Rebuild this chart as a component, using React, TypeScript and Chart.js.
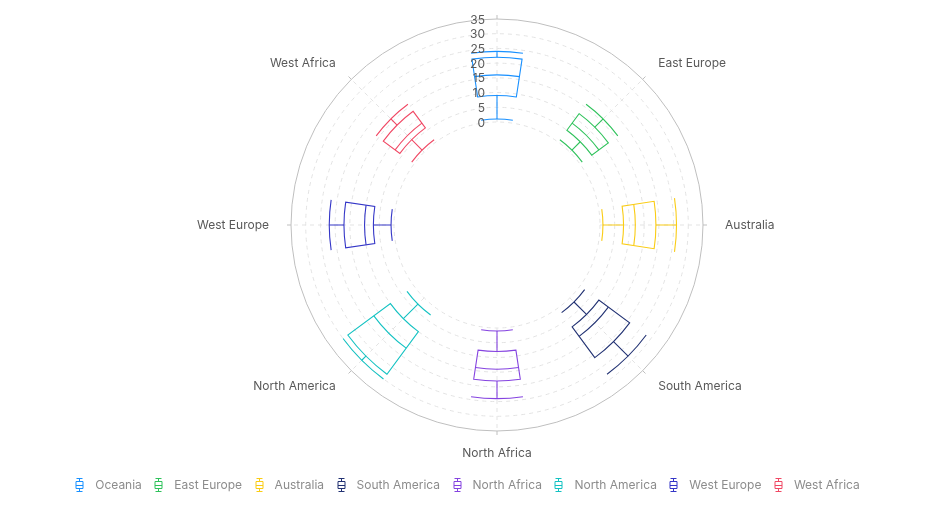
import React, { useEffect, useRef } from 'react';
import { Chart, registerables } from 'chart.js';

Chart.register(...registerables);

const categories = ['Oceania', 'East Europe', 'Australia', 'South America', 'North Africa', 'North America', 'West Europe', 'West Africa'];
const lows = [1, 1, 1, 2, 1, 3, 1, 1];
const q1s = [9, 5, 8, 8, 8, 10, 7, 6];
const medians = [16, 8, 12, 12, 14, 17, 10, 8];
const q3s = [22, 12, 19, 21, 18, 28, 17, 13];
const highs = [24, 16, 26, 28, 24, 30, 22, 16];
const colors = ['#1890FF', '#2FC25B', '#FACC14', '#223273', '#8543E0', '#13C2C2', '#3436C7', '#F04864'];
const radialTicks = [0, 5, 10, 15, 20, 25, 30, 35];
const axisLabels = ['', 'East Europe', 'Australia', 'South America', 'North Africa', 'North America', 'West Europe', 'West Africa'];

const FONT = 'Inter, "Liberation Sans", sans-serif';
const HALF_W = 0.15;

const polarBoxPlugin = {
  id: 'polarBox',
  beforeDatasetsDraw(chart: any) {
    const s = chart.scales.r;
    const ctx = chart.ctx;
    const r0 = s.getDistanceFromCenterForValue(0);
    const rMax = s.getDistanceFromCenterForValue(35);
    ctx.save();
    ctx.lineWidth = 1;
    radialTicks.forEach((v) => {
      const r = s.getDistanceFromCenterForValue(v);
      ctx.beginPath();
      if (v === 35) {
        ctx.setLineDash([]);
        ctx.strokeStyle = '#BFBFBF';
      } else {
        ctx.setLineDash([4, 4]);
        ctx.strokeStyle = '#E3E3E3';
      }
      ctx.arc(s.xCenter, s.yCenter, r, 0, Math.PI * 2);
      ctx.stroke();
    });
    ctx.setLineDash([4, 4]);
    ctx.strokeStyle = '#E3E3E3';
    categories.forEach((_, i) => {
      const a = s.getPointPosition(i, r0);
      const b = s.getPointPosition(i, rMax);
      ctx.beginPath();
      ctx.moveTo(a.x, a.y);
      ctx.lineTo(b.x, b.y);
      ctx.stroke();
    });
    ctx.setLineDash([]);
    ctx.strokeStyle = '#BFBFBF';
    categories.forEach((_, i) => {
      const a = s.getPointPosition(i, rMax);
      const b = s.getPointPosition(i, rMax + 4);
      ctx.beginPath();
      ctx.moveTo(a.x, a.y);
      ctx.lineTo(b.x, b.y);
      ctx.stroke();
    });
    ctx.restore();
  },
  afterDatasetsDraw(chart: any) {
    const s = chart.scales.r;
    const ctx = chart.ctx;
    const cx = s.xCenter;
    const cy = s.yCenter;
    ctx.save();
    ctx.lineWidth = 1.1;
    ctx.setLineDash([]);
    categories.forEach((_, i) => {
      const ang = s.getIndexAngle(i) - Math.PI / 2;
      const rl = s.getDistanceFromCenterForValue(lows[i]);
      const r1 = s.getDistanceFromCenterForValue(q1s[i]);
      const rm = s.getDistanceFromCenterForValue(medians[i]);
      const r3 = s.getDistanceFromCenterForValue(q3s[i]);
      const rh = s.getDistanceFromCenterForValue(highs[i]);
      ctx.strokeStyle = colors[i];
      const p = (r: number, a: number) => ({ x: cx + Math.cos(a) * r, y: cy + Math.sin(a) * r });
      [rl, rh].forEach((r) => {
        ctx.beginPath();
        ctx.arc(cx, cy, r, ang - HALF_W, ang + HALF_W);
        ctx.stroke();
      });
      ctx.beginPath();
      let a = p(rl, ang), b = p(r1, ang);
      ctx.moveTo(a.x, a.y); ctx.lineTo(b.x, b.y);
      a = p(r3, ang); b = p(rh, ang);
      ctx.moveTo(a.x, a.y); ctx.lineTo(b.x, b.y);
      ctx.stroke();
      ctx.beginPath();
      ctx.arc(cx, cy, r1, ang - HALF_W, ang + HALF_W);
      const c = p(r3, ang + HALF_W);
      ctx.lineTo(c.x, c.y);
      ctx.arc(cx, cy, r3, ang + HALF_W, ang - HALF_W, true);
      ctx.closePath();
      ctx.stroke();
      ctx.beginPath();
      ctx.arc(cx, cy, rm, ang - HALF_W, ang + HALF_W);
      ctx.stroke();
    });
    ctx.restore();
  },
  afterDraw(chart: any) {
    const s = chart.scales.r;
    const ctx = chart.ctx;
    ctx.save();
    ctx.font = `12px ${FONT}`;
    ctx.fillStyle = '#595959';
    ctx.textAlign = 'right';
    ctx.textBaseline = 'middle';
    radialTicks.forEach((v) => {
      const r = s.getDistanceFromCenterForValue(v);
      ctx.fillText(String(v), s.xCenter - 12, s.yCenter - r + 1);
    });
    const rl = s.getDistanceFromCenterForValue(35) + 22;
    axisLabels.forEach((t, i) => {
      if (!t) return;
      const pos = s.getPointPosition(i, rl);
      const dx = pos.x - s.xCenter;
      ctx.textAlign = Math.abs(dx) < 1 ? 'center' : dx > 0 ? 'left' : 'right';
      ctx.textBaseline = 'middle';
      ctx.fillText(t, pos.x, pos.y);
    });
    const ly = 485;
    const iconGap = 16;
    const itemGap = 16.5;
    const widths = categories.map((t) => ctx.measureText(t).width);
    const total = widths.reduce((acc, w) => acc + iconGap + w, 0) + itemGap * (categories.length - 1) + 4;
    let x = chart.width / 2 - total / 2 + 5;
    categories.forEach((t, i) => {
      const ix = Math.round(x) + 0.5;
      ctx.strokeStyle = colors[i];
      ctx.lineWidth = 1;
      ctx.beginPath();
      ctx.moveTo(ix - 3, ly - 6.5); ctx.lineTo(ix + 3, ly - 6.5);
      ctx.moveTo(ix - 3, ly + 6.5); ctx.lineTo(ix + 3, ly + 6.5);
      ctx.moveTo(ix, ly - 6.5); ctx.lineTo(ix, ly - 3.5);
      ctx.moveTo(ix, ly + 3.5); ctx.lineTo(ix, ly + 6.5);
      ctx.rect(ix - 3.5, ly - 3.5, 7, 7);
      ctx.moveTo(ix - 3.5, ly + 0.5); ctx.lineTo(ix + 3.5, ly + 0.5);
      ctx.stroke();
      ctx.fillStyle = '#8C8C8C';
      ctx.textAlign = 'left';
      ctx.textBaseline = 'middle';
      ctx.fillText(t, x + iconGap, ly);
      x += iconGap + widths[i] + itemGap;
    });
    ctx.restore();
  },
};

export default function App() {
  const canvasRef = useRef<HTMLCanvasElement | null>(null);
  useEffect(() => {
    if (!canvasRef.current) return;
    const datasets = categories.map((name, i) => ({
      label: name,
      data: categories.map((_, j) => (j === i ? medians[i] : null)),
      borderColor: colors[i],
      backgroundColor: colors[i],
      showLine: false,
      pointRadius: 0,
      pointHoverRadius: 0,
    }));
    const chart = new Chart(canvasRef.current, {
      type: 'radar',
      data: { labels: categories, datasets: datasets as any },
      options: {
        responsive: true,
        maintainAspectRatio: false,
        animation: false,
        layout: { padding: { left: 198, right: 137, top: 19, bottom: 94 } },
        plugins: { legend: { display: false }, tooltip: { enabled: false } },
        scales: {
          r: {
            min: -35,
            max: 35,
            ticks: { display: false, stepSize: 5 },
            pointLabels: { display: false },
            angleLines: { display: false },
            grid: { display: false },
          },
        },
      },
      plugins: [polarBoxPlugin],
    });
    return () => chart.destroy();
  }, []);
  return (
    <div style={{ position: 'fixed', left: 0, top: 0, width: 933, height: 525, background: '#fff' }}>
      <canvas ref={canvasRef} />
    </div>
  );
}
